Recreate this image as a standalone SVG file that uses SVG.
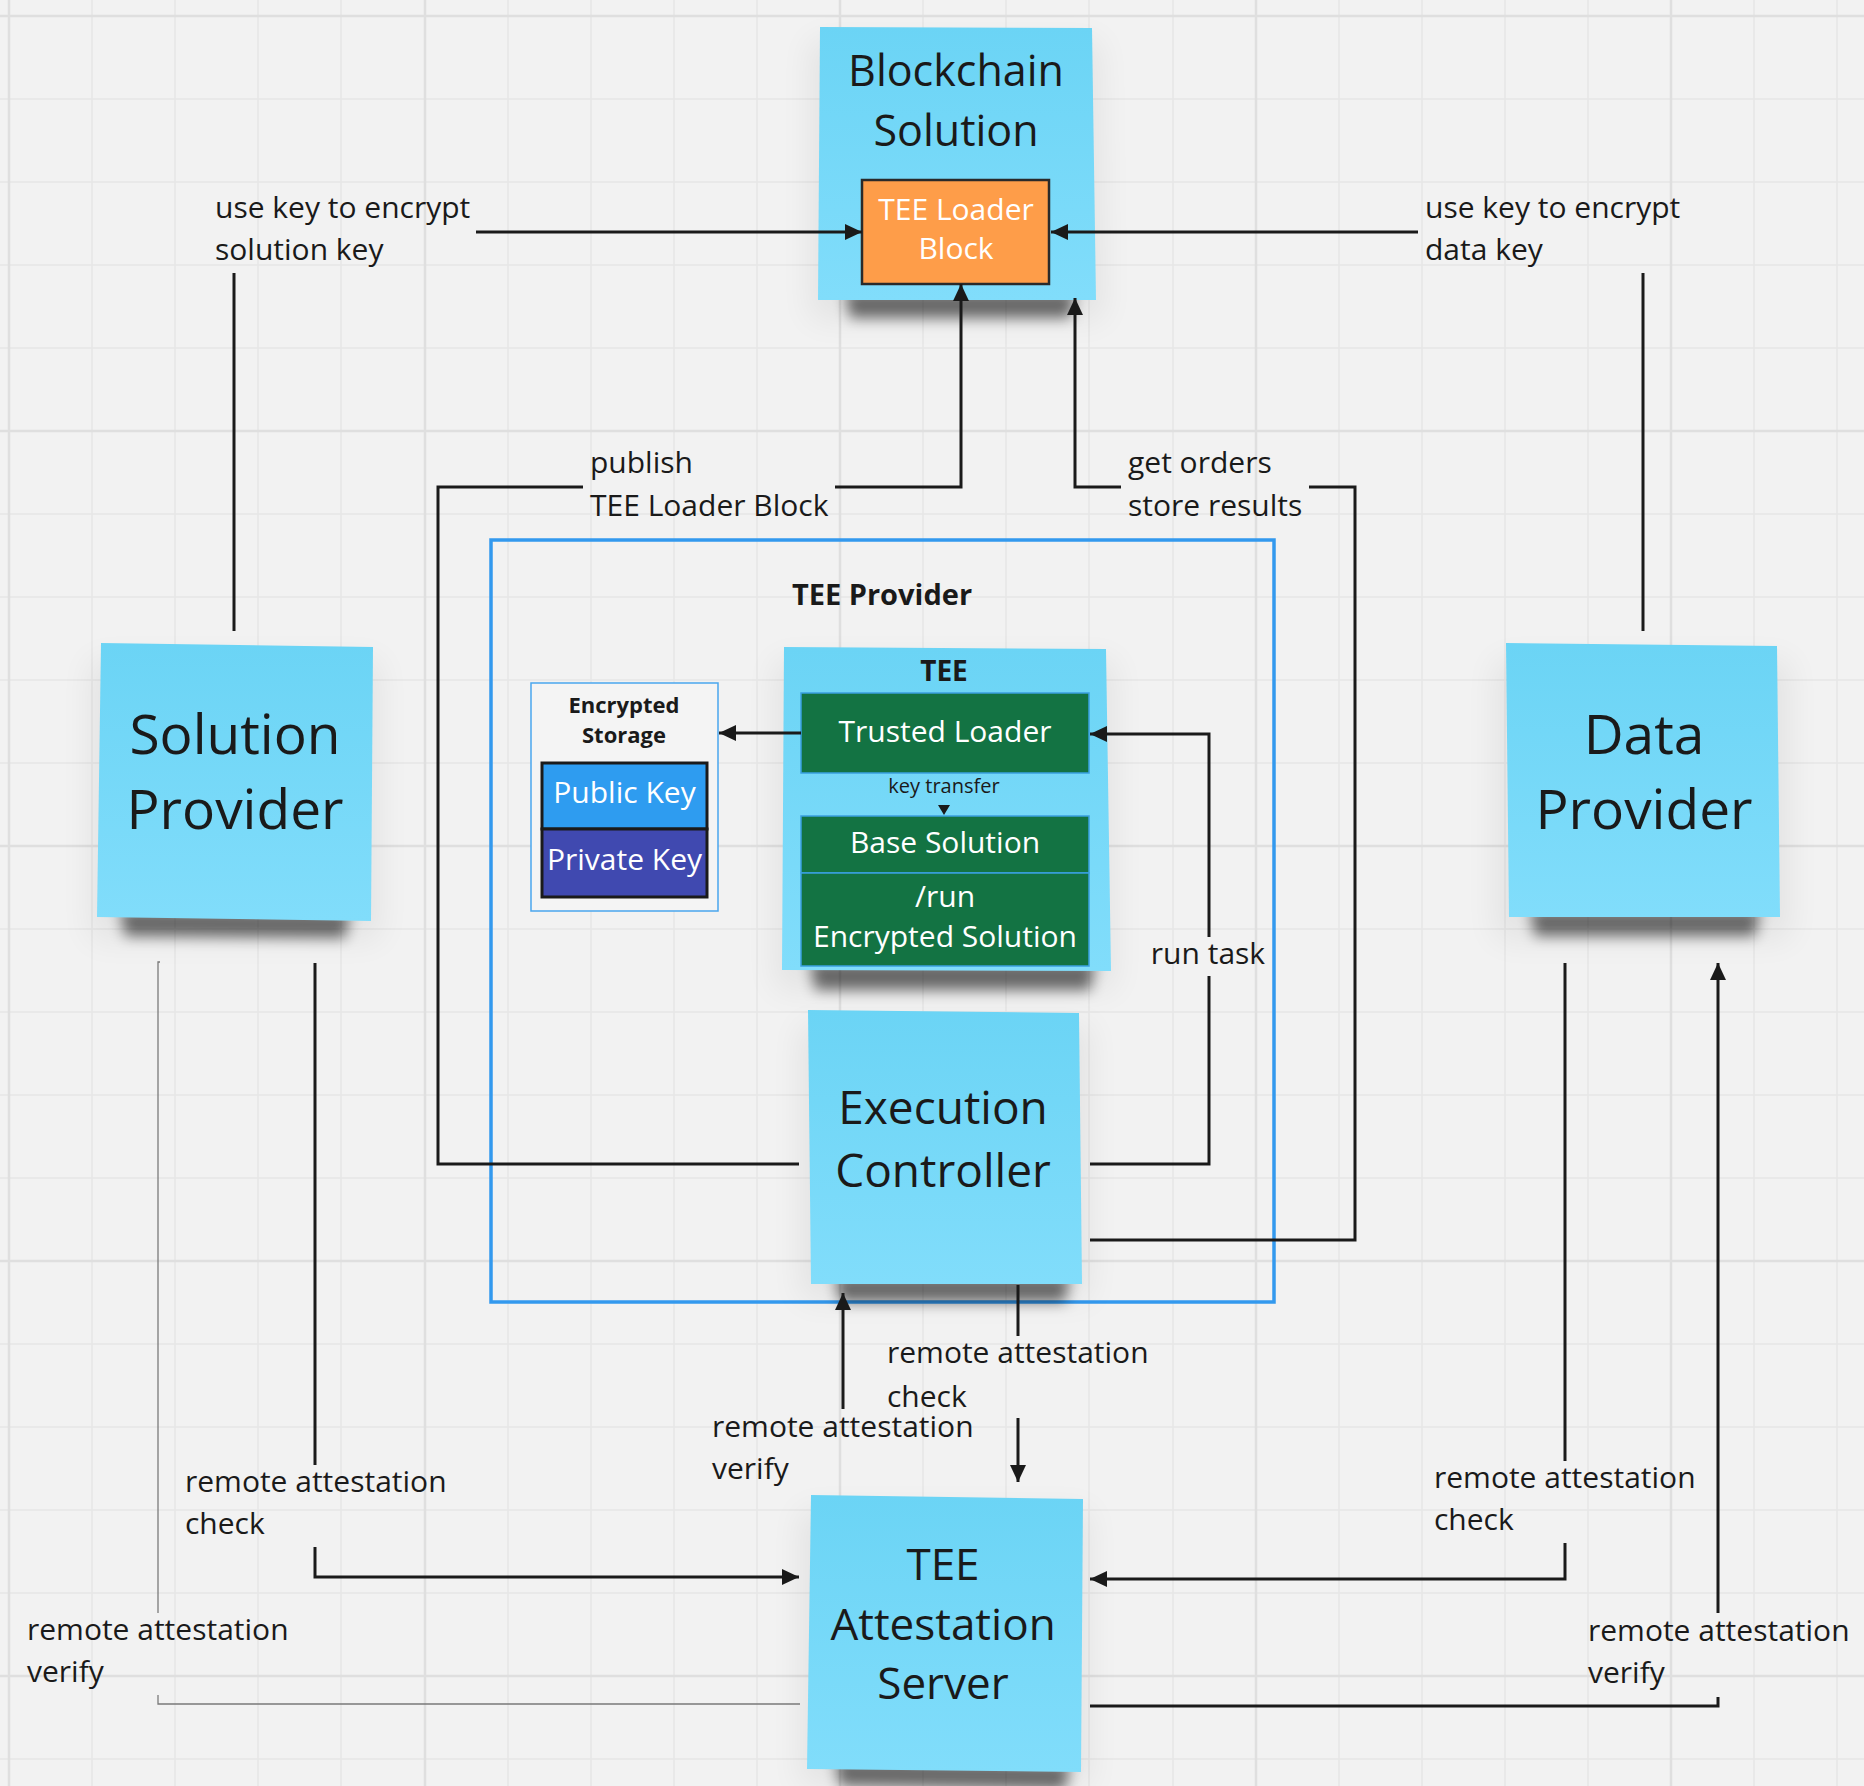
<svg xmlns="http://www.w3.org/2000/svg" width="1864" height="1786" viewBox="0 0 1864 1786">
<defs>
<style>
.bg{fill:#f2f2f2}
.grid{stroke:#e6e6e6;stroke-width:1.5;fill:none}
.gridM{stroke:#dfdfdf;stroke-width:2.5;fill:none}
.sticky{fill:url(#stickyGrad)}
.shadow{fill:#000;opacity:.55;filter:url(#blur)}
.halo{fill:#000;opacity:.06;filter:url(#blurBig)}
.st{font-family:"Open Sans","Noto Sans",sans-serif;fill:#1a1a1a;text-anchor:middle}
.lbl{font-family:"Open Sans","Noto Sans",sans-serif;font-size:30px;fill:#1a1a1a}
.wt{font-family:"Open Sans","Noto Sans",sans-serif;font-size:30px;fill:#ffffff;text-anchor:middle}
.bold{font-weight:700}
.conn{fill:none;stroke:#1a1a1a;stroke-width:3}
.thin{fill:none;stroke:#7a7a7a;stroke-width:1.3}
.green{fill:#137343;stroke:#3aa0e0;stroke-width:1.5}
</style>
<linearGradient id="stickyGrad" x1="0" y1="0" x2="0" y2="1">
<stop offset="0" stop-color="#6bd4f5"/>
<stop offset="1" stop-color="#81ddfb"/>
</linearGradient>
<filter id="blur" x="-20%" y="-100%" width="140%" height="300%"><feGaussianBlur stdDeviation="7"/></filter>
<filter id="blurBig" x="-30%" y="-30%" width="160%" height="160%"><feGaussianBlur stdDeviation="16"/></filter>
<marker id="arr" markerUnits="userSpaceOnUse" markerWidth="18" markerHeight="16" refX="17" refY="8" orient="auto">
<path d="M0,0 L17,8 L0,16 z" fill="#1a1a1a"/>
</marker>
</defs>

<rect class="bg" x="0" y="0" width="1864" height="1786"/>
<g id="grid">
<path class="grid" d="M92,0V1786M175,0V1786M258,0V1786M341,0V1786M508,0V1786M591,0V1786M674,0V1786M757,0V1786M923,0V1786M1006,0V1786M1089,0V1786M1173,0V1786M1339,0V1786M1422,0V1786M1505,0V1786M1588,0V1786M1754,0V1786M1837,0V1786"/>
<path class="grid" d="M0,99H1864M0,182H1864M0,265H1864M0,348H1864M0,514H1864M0,597H1864M0,680H1864M0,763H1864M0,929H1864M0,1012H1864M0,1095H1864M0,1178H1864M0,1344H1864M0,1427H1864M0,1510H1864M0,1593H1864M0,1759H1864"/>
<path class="gridM" d="M9,0V1786M425,0V1786M840,0V1786M1256,0V1786M1671,0V1786M0,16H1864M0,431H1864M0,846H1864M0,1261H1864M0,1676H1864"/>
</g>

<g id="tee-provider">
<rect x="491" y="540" width="783" height="762" fill="none" stroke="#3399ee" stroke-width="3.5"/>
<text class="st bold" x="882" y="605" font-size="29">TEE Provider</text>
</g>

<g id="blockchain-solution">
<path class="halo" d="M810,40 L1100,40 L1104,320 L810,320 z"/>
<path class="shadow" d="M845,292 L1075,292 L1070,318 L850,318 z"/>
<polygon class="sticky" points="820,27 1092,28 1096,300 818,300"/>
<text class="st" x="956" y="86" font-size="43">Blockchain</text>
<text class="st" x="956" y="146" font-size="43">Solution</text>
</g>

<g id="tee-loader-block">
<rect x="862" y="180" width="187" height="104" fill="#fe9d49" stroke="#2a2a2a" stroke-width="2.5"/>
<text class="wt" x="956" y="220">TEE Loader</text>
<text class="wt" x="956" y="259">Block</text>
</g>

<g id="solution-provider">
<path class="halo" d="M90,660 L380,660 L380,940 L90,940 z"/>
<path class="shadow" d="M120,910 L350,912 L345,938 L125,936 z"/>
<polygon class="sticky" points="101,643 373,647 371,921 97,917"/>
<text class="st" x="235" y="754" font-size="55">Solution</text>
<text class="st" x="235" y="829" font-size="55">Provider</text>
</g>

<g id="data-provider">
<path class="halo" d="M1495,660 L1790,660 L1790,940 L1495,940 z"/>
<path class="shadow" d="M1530,910 L1760,910 L1755,936 L1535,936 z"/>
<polygon class="sticky" points="1506,643 1777,646 1780,917 1509,917"/>
<text class="st" x="1644" y="754" font-size="55">Data</text>
<text class="st" x="1644" y="829" font-size="55">Provider</text>
</g>

<g id="tee">
<path class="halo" d="M775,660 L1115,660 L1115,990 L775,990 z"/>
<path class="shadow" d="M810,962 L1095,962 L1090,990 L815,990 z"/>
<polygon class="sticky" points="784,647 1106,649 1111,971 782,970"/>
<text class="st bold" x="944" y="681" font-size="28">TEE</text>
</g>

<g id="trusted-loader">
<rect class="green" x="801" y="693" width="288" height="80"/>
<text class="wt" x="945" y="742">Trusted Loader</text>
</g>

<g id="key-transfer">
<text class="st" x="944" y="793" font-size="20">key transfer</text>
<polygon points="938,805 950,805 944,815" fill="#1a1a1a"/>
</g>

<g id="base-solution">
<rect class="green" x="801" y="816" width="288" height="57"/>
<text class="wt" x="945" y="853">Base Solution</text>
</g>

<g id="run-encrypted-solution">
<rect class="green" x="801" y="873" width="288" height="93"/>
<text class="wt" x="945" y="907">/run</text>
<text class="wt" x="945" y="947">Encrypted Solution</text>
</g>

<g id="encrypted-storage">
<rect x="531" y="683" width="187" height="228" fill="#f4f4f4" stroke="#4aa6ee" stroke-width="1.5"/>
<text class="st bold" x="624" y="713" font-size="22">Encrypted</text>
<text class="st bold" x="624" y="743" font-size="22">Storage</text>
</g>

<g id="public-key">
<rect x="542" y="763" width="165" height="66" fill="#2e9cf0" stroke="#1a1a1a" stroke-width="3"/>
<text class="wt" x="624.5" y="803">Public Key</text>
</g>

<g id="private-key">
<rect x="542" y="829" width="165" height="68" fill="#4049b0" stroke="#1a1a1a" stroke-width="3"/>
<text class="wt" x="624.5" y="870">Private Key</text>
</g>

<g id="execution-controller">
<path class="halo" d="M800,1025 L1090,1025 L1090,1300 L800,1300 z"/>
<path class="shadow" d="M835,1276 L1070,1276 L1065,1302 L840,1302 z"/>
<polygon class="sticky" points="808,1010 1079,1013 1082,1284 811,1284"/>
<text class="st" x="943" y="1124" font-size="46">Execution</text>
<text class="st" x="943" y="1187" font-size="46">Controller</text>
</g>

<g id="tee-attestation-server">
<path class="halo" d="M800,1510 L1090,1510 L1090,1786 L800,1786 z"/>
<path class="shadow" d="M835,1760 L1070,1764 L1065,1790 L840,1786 z"/>
<polygon class="sticky" points="811,1495 1083,1499 1081,1772 807,1769"/>
<text class="st" x="943" y="1580" font-size="44">TEE</text>
<text class="st" x="943" y="1640" font-size="44">Attestation</text>
<text class="st" x="943" y="1699" font-size="44">Server</text>
</g>

<g id="connectors">
<path class="conn" d="M234,631 V273"/>
<path class="conn" d="M476,232 H862" marker-end="url(#arr)"/>
<path class="conn" d="M1643,631 V273"/>
<path class="conn" d="M1418,232 H1051" marker-end="url(#arr)"/>
<path class="conn" d="M799,1164 H438 V487 H583"/>
<path class="conn" d="M835,487 H961 V284" marker-end="url(#arr)"/>
<path class="conn" d="M1090,1240 H1355 V487 H1309"/>
<path class="conn" d="M1121,487 H1075 V298" marker-end="url(#arr)"/>
<path class="conn" d="M1090,1164 H1209 V976"/>
<path class="conn" d="M1209,937 V734 H1090" marker-end="url(#arr)"/>
<path class="conn" d="M801,733 H719" marker-end="url(#arr)"/>
<path class="conn" d="M1018,1285 V1336"/>
<path class="conn" d="M1018,1418 V1482" marker-end="url(#arr)"/>
<path class="conn" d="M843,1409 V1293" marker-end="url(#arr)"/>
<path class="conn" d="M315,963 V1465"/>
<path class="conn" d="M315,1547 V1577 H799" marker-end="url(#arr)"/>
<path class="thin" d="M160,962 H158 V1613"/>
<path class="thin" d="M158,1695 V1704 H800"/>
<path class="conn" d="M1565,963 V1461"/>
<path class="conn" d="M1565,1543 V1579 H1090" marker-end="url(#arr)"/>
<path class="conn" d="M1090,1706 H1718 V1697"/>
<path class="conn" d="M1718,1613 V963" marker-end="url(#arr)"/>
</g>

<g id="labels">
<text class="lbl" x="215" y="218">use key to encrypt</text>
<text class="lbl" x="215" y="260">solution key</text>
<text class="lbl" x="1425" y="218">use key to encrypt</text>
<text class="lbl" x="1425" y="260">data key</text>
<text class="lbl" x="590" y="473">publish</text>
<text class="lbl" x="590" y="516">TEE Loader Block</text>
<text class="lbl" x="1128" y="473">get orders</text>
<text class="lbl" x="1128" y="516">store results</text>
<text class="lbl" x="1208" y="964" text-anchor="middle">run task</text>
<text class="lbl" x="887" y="1363">remote attestation</text>
<text class="lbl" x="887" y="1407">check</text>
<text class="lbl" x="712" y="1437">remote attestation</text>
<text class="lbl" x="712" y="1479">verify</text>
<text class="lbl" x="185" y="1492">remote attestation</text>
<text class="lbl" x="185" y="1534">check</text>
<text class="lbl" x="27" y="1640">remote attestation</text>
<text class="lbl" x="27" y="1682">verify</text>
<text class="lbl" x="1434" y="1488">remote attestation</text>
<text class="lbl" x="1434" y="1530">check</text>
<text class="lbl" x="1588" y="1641">remote attestation</text>
<text class="lbl" x="1588" y="1683">verify</text>
</g>
</svg>
